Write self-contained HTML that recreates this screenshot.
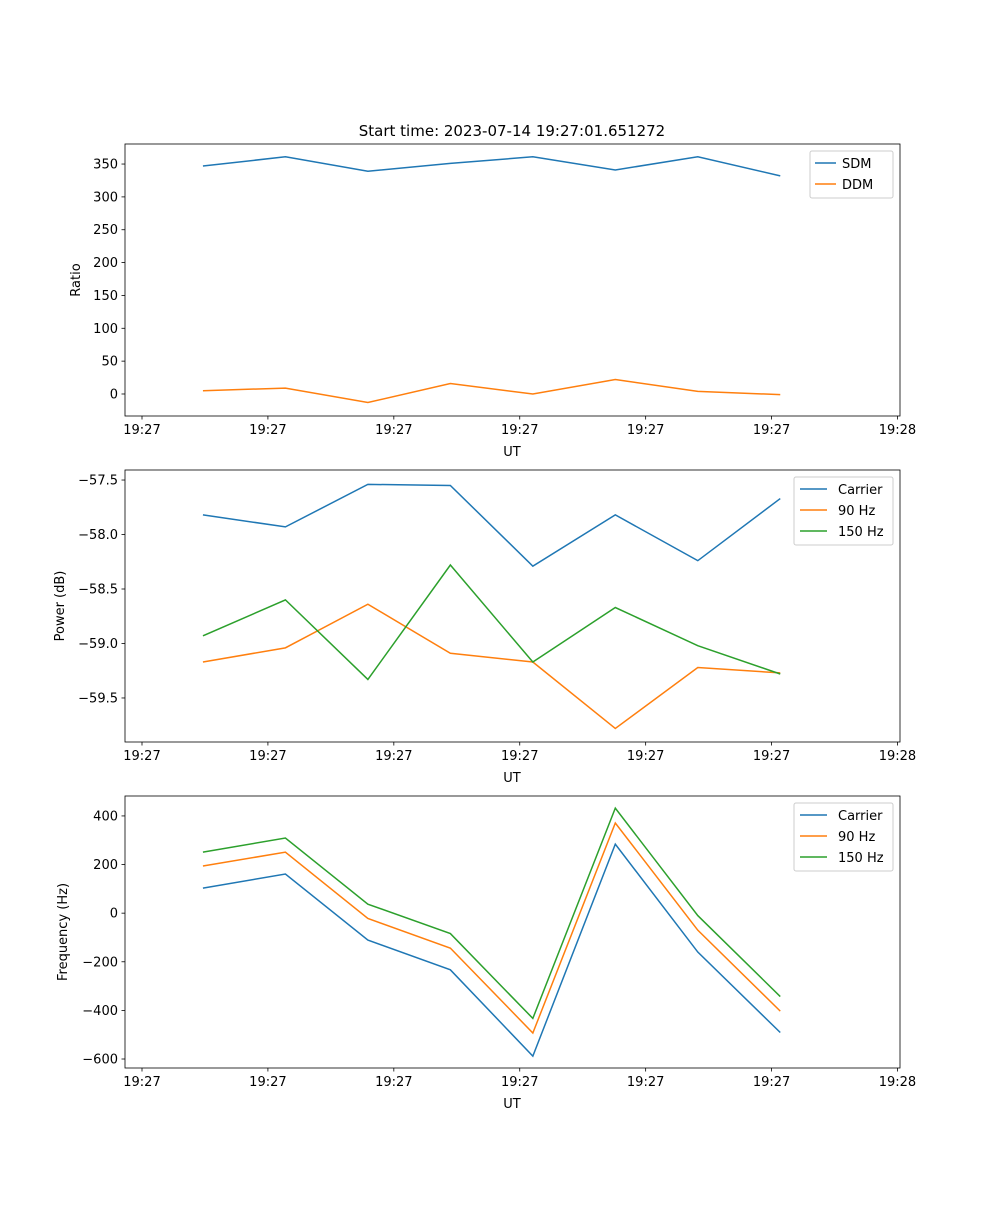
<!DOCTYPE html>
<html><head><meta charset="utf-8">
<style>
body{margin:0;background:#fff;}
svg text{font-family:"DejaVu Sans","Liberation Sans",sans-serif;font-size:13px;fill:#000;}
</style></head>
<body>
<svg id="fig" width="1000" height="1200" xmlns="http://www.w3.org/2000/svg">
<text x="512" y="136" text-anchor="middle" font-size="15" style="font-size:15px">Start time: 2023-07-14 19:27:01.651272</text>
</svg>
<script>
// x values in seconds after 19:27:00
const times = [4.84, 11.39, 17.94, 24.49, 31.04, 37.59, 44.14, 50.69];
const xTickVals = [0, 10, 20, 30, 40, 50, 60];
const xTickLabels = ["19:27","19:27","19:27","19:27","19:27","19:27","19:28"];
const sdm = [347, 361, 339, 351, 361, 341, 361, 332];
const ddm = [5, 9, -13, 16, 0, 22, 4, -1];
const powerCarrier = [-57.82, -57.93, -57.54, -57.55, -58.29, -57.82, -58.24, -57.67];
const power90 = [-59.17, -59.04, -58.64, -59.09, -59.17, -59.78, -59.22, -59.27];
const power150 = [-58.93, -58.60, -59.33, -58.28, -59.17, -58.67, -59.02, -59.28];
const freqCarrier = [103, 161, -111, -233, -588, 284, -160, -491];
const freq90 = [194, 251, -22, -144, -493, 371, -70, -403];
const freq150 = [251, 309, 37, -84, -433, 432, -10, -343];
const ratioTicks = [0, 50, 100, 150, 200, 250, 300, 350];
const powerTicks = [-59.5, -59.0, -58.5, -58.0, -57.5];
const freqTicks = [-600, -400, -200, 0, 200, 400];

const NS = "http://www.w3.org/2000/svg";
const svg = document.getElementById("fig");
const C = ["#1f77b4", "#ff7f0e", "#2ca02c"];
function mk(tag, attrs, parent) {
  const e = document.createElementNS(NS, tag);
  for (const k in attrs) e.setAttribute(k, attrs[k]);
  (parent || svg).appendChild(e);
  return e;
}
const X0 = 125, X1 = 900, xmin = -1.35, xmax = 60.2;
function xs(v) { return X0 + (v - xmin) / (xmax - xmin) * (X1 - X0); }

function panel(name, top, bottom, ymin, ymax, yTicks, fmt, ylabel, series, names, legend) {
  const g = mk("g", {});
  
  
  const ys = v => bottom - (v - ymin) / (ymax - ymin) * (bottom - top);
  series.forEach((s, i) => {
    const p = mk("polyline", {points: s.map((v, j) => xs(times[j]) + "," + ys(v)).join(" "), fill: "none", stroke: C[i], "stroke-width": 1.5}, g);
    
    
  });
  const fr = mk("rect", {x: X0, y: top, width: X1 - X0, height: bottom - top, fill: "none", stroke: "#000", "stroke-width": 0.8}, g);
  
  
  xTickVals.forEach((v, i) => {
    const x = xs(v);
    mk("line", {x1: x, x2: x, y1: bottom, y2: bottom + 3.5, stroke: "#000", "stroke-width": 0.8}, g);
    const t = mk("text", {x: x, y: bottom + 18, "text-anchor": "middle"}, g);
    t.textContent = xTickLabels[i];
    
    
  });
  yTicks.forEach(v => {
    const y = ys(v);
    mk("line", {x1: X0, x2: X0 - 3.5, y1: y, y2: y, stroke: "#000", "stroke-width": 0.8}, g);
    const t = mk("text", {x: X0 - 7, y: y + 4.5, "text-anchor": "end"}, g);
    t.textContent = fmt(v);
    
    
  });
  const xl = mk("text", {x: 512, y: bottom + 40, "text-anchor": "middle"}, g);
  xl.textContent = "UT";
  
  
  const yl = mk("text", {x: 0, y: 0, "text-anchor": "middle", transform: `translate(${legend.ylx},${(top + bottom) / 2}) rotate(-90)`}, g);
  yl.textContent = ylabel;
  
  
  const lg = mk("g", {}, g);
  
  
  mk("rect", {x: legend.x, y: top + 7, width: legend.w, height: names.length * 21 + 5, rx: 2, fill: "#fff", stroke: "#ccc", "stroke-width": 1}, lg);
  names.forEach((n, i) => {
    const y = top + 19 + i * 21;
    mk("line", {x1: legend.x + legend.l0, x2: legend.x + legend.l1, y1: y, y2: y, stroke: C[i], "stroke-width": 1.5}, lg);
    const t = mk("text", {x: legend.x + legend.tx, y: y + 5}, lg);
    t.textContent = n;
    
    
  });
}
panel("ratio", 144, 416, -33.5, 380.5, ratioTicks, v => String(v), "Ratio", [sdm, ddm], ["SDM", "DDM"], {x: 810, w: 83, ylx: 80, l0: 5, l1: 26, tx: 32});
panel("power", 470, 742, -59.904, -57.408, powerTicks, v => "\u2212" + Math.abs(v).toFixed(1), "Power (dB)", [powerCarrier, power90, power150], ["Carrier", "90 Hz", "150 Hz"], {x: 794, w: 99, ylx: 64, l0: 6, l1: 33, tx: 44});
panel("frequency", 796, 1068, -637, 482, freqTicks, v => v < 0 ? "\u2212" + Math.abs(v) : String(v), "Frequency (Hz)", [freqCarrier, freq90, freq150], ["Carrier", "90 Hz", "150 Hz"], {x: 794, w: 99, ylx: 67, l0: 6, l1: 33, tx: 44});
</script>
</body></html>
